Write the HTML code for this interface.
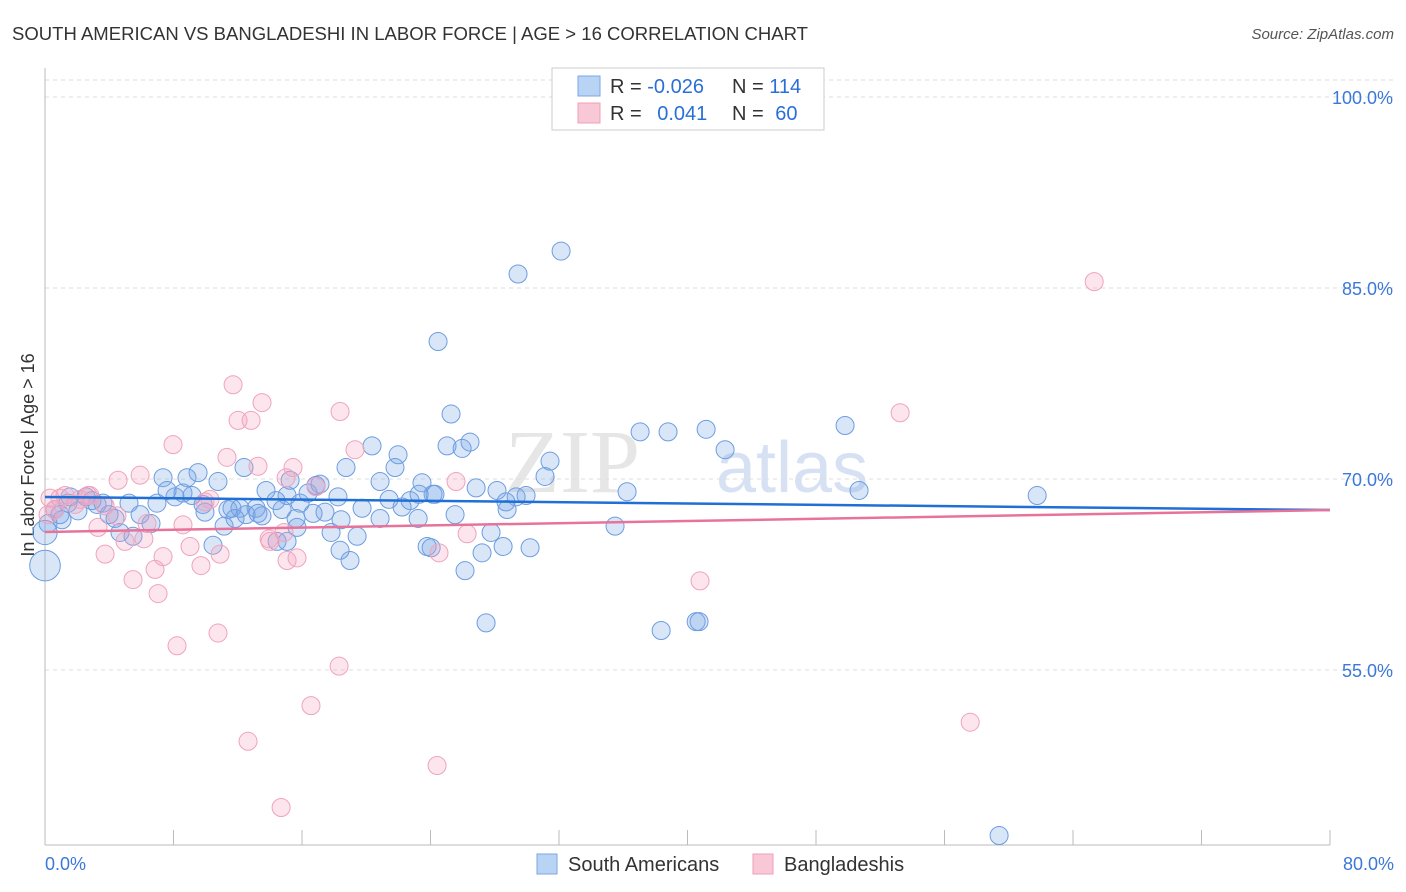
<!DOCTYPE html>
<html><head><meta charset="utf-8"><style>
body{margin:0;background:#fff;font-family:"Liberation Sans",sans-serif;}
svg{display:block}
</style></head><body>
<svg id="chart" width="1406" height="892">
<text x="12" y="40" font-size="18" fill="#333" textLength="796" lengthAdjust="spacingAndGlyphs">SOUTH AMERICAN VS BANGLADESHI IN LABOR FORCE | AGE &gt; 16 CORRELATION CHART</text>
<text x="1394" y="39" font-size="15" fill="#555" text-anchor="end" font-style="italic">Source: ZipAtlas.com</text>
<text x="0" y="0" font-size="18" fill="#333" text-anchor="middle" transform="translate(34,455) rotate(-90)">In Labor Force | Age &gt; 16</text>
<text x="640" y="492" font-size="90" fill="#e6e6e6" font-family="Liberation Serif" text-anchor="end">ZIP</text>
<text x="716" y="492" font-size="72" fill="#d6e2f3">atlas</text>
<g id="grid"></g><g id="pts"></g><g id="trend"></g>
<rect x="552" y="68" width="272" height="62" fill="#fff" stroke="#ccc"/>
<rect x="578" y="76" width="22" height="20" fill="#b9d3f5" stroke="#7aa7e6"/>
<rect x="578" y="103" width="22" height="20" fill="#f9c8d7" stroke="#f0a0b8"/>
<text x="610" y="93" font-size="20" fill="#333">R = <tspan fill="#2a6fd6">-0.026</tspan></text>
<text x="732" y="93" font-size="20" fill="#333">N = <tspan fill="#2a6fd6">114</tspan></text>
<text x="610" y="120" font-size="20" fill="#333">R = <tspan fill="#2a6fd6" dx="10">0.041</tspan></text>
<text x="732" y="120" font-size="20" fill="#333">N = <tspan fill="#2a6fd6" dx="6">60</tspan></text>
<rect x="537" y="854" width="20" height="20" fill="#b9d3f5" stroke="#7aa7e6"/>
<text x="568" y="871" font-size="20" fill="#333">South Americans</text>
<rect x="753" y="854" width="20" height="20" fill="#f9c8d7" stroke="#f0a0b8"/>
<text x="784" y="871" font-size="20" fill="#333">Bangladeshis</text>
<text x="45" y="870" font-size="18" fill="#3b78d8">0.0%</text>
<text x="1394" y="870" font-size="18" fill="#3b78d8" text-anchor="end">80.0%</text>
</svg>
<script>
const yTicks=[100,85,70,55];
const yTickLabels=["100.0%","85.0%","70.0%","55.0%"];
const blueX=[29.45,32.13,24.47,25.28,25.03,25.97,26.46,21.98,20.36,12.39,18.74,21.79,20.86,23.47,24.28,26.84,28.14,29.33,29.95,31.13,31.44,37.05,38.79,41.16,42.34,49.81,50.68,61.77,36.24,35.49,30.2,28.52,27.21,26.15,27.77,27.46,38.36,40.54,40.72,59.4,18.99,15.69,14.45,15.07,17.81,19.43,20.86,23.23,25.53,28.77,21.42,22.73,24.16,19.74,18.43,16.69,17.43,15.88,15.07,13.76,14.38,16.38,16.87,17.12,18.24,13.14,12.52,12.14,11.64,11.15,10.46,9.53,8.84,8.59,8.09,7.35,6.97,5.92,5.23,4.67,3.99,3.61,3.24,2.55,2.05,1.43,0.93,0.62,0.19,0,0,9.84,10.77,9.96,9.15,7.6,6.6,5.48,4.36,2.93,1.56,1.06,13.51,14.76,15.63,15.26,13.26,11.39,11.83,18.37,23.79,24.04,22.23,23.29,28.7];
const blueY=[86.1,87.9,80.8,75.1,72.6,72.4,72.9,71.9,72.6,70.9,70.9,70.9,69.8,69.7,68.8,69.3,69.1,68.6,68.7,70.2,71.4,73.7,73.7,73.9,72.3,74.2,69.1,68.7,69.0,66.3,64.6,64.7,64.2,62.8,65.8,58.7,58.1,58.8,58.8,42.0,63.6,66.2,65.1,65.1,65.8,65.5,66.9,66.9,67.2,67.6,68.4,68.3,68.8,67.7,66.8,67.3,67.4,68.1,68.7,69.1,68.3,68.9,69.5,69.6,68.6,67.7,67.2,67.7,67.7,66.3,64.8,70.5,70.1,68.9,68.6,70.1,68.1,67.2,68.1,65.8,67.2,68.1,68.0,68.6,67.5,68.1,67.2,67.6,66.5,65.8,63.2,68.0,69.8,67.4,68.7,69.1,66.5,65.5,66.9,68.3,68.6,66.8,67.1,67.6,66.9,69.9,67.3,67.6,66.9,64.4,64.7,64.6,67.8,68.8,68.2];
const blueSize=blueX.map((v,i)=>i===89?1.35:(i===90?1.7:1));
const pinkX=[65.32,53.24,57.6,40.78,11.71,13.51,12.83,12.02,18.37,19.3,7.97,11.33,13.26,15.44,16.87,15.01,25.59,26.28,24.53,24.41,16.56,18.31,14.7,12.64,10.77,8.22,7.04,5.48,6.85,3.74,4.98,7.35,9.03,9.71,10.9,14.01,15.07,15.69,6.35,6.16,8.59,4.48,3.74,2.68,2.18,1.25,0.62,0.19,0.93,3.3,5.92,4.55,10.27,9.96,1.87,13.95,14.88,2.8,0.31];
const pinkY=[85.5,75.2,50.9,62.0,77.4,76.0,74.6,74.6,75.3,72.3,72.7,71.7,71.0,70.9,69.4,70.1,69.8,65.7,64.2,47.5,52.2,55.3,44.2,49.4,57.9,56.9,61.0,62.1,62.9,64.1,65.1,63.9,64.7,63.2,64.1,65.1,63.6,63.8,66.5,65.3,66.4,67.1,67.9,68.7,68.4,68.7,67.6,67.2,68.5,66.2,70.3,69.9,68.4,68.2,68.0,65.3,65.8,68.7,68.5];
const blueTrend=[68.59,67.56];
const pinkTrend=[65.84,67.56];
const NS="http://www.w3.org/2000/svg";
const X0=45,X1=1330,Y100=97,PXY=12.733;
function sx(v){return X0+(v/80)*(X1-X0);}
function sy(v){return Y100+(100-v)*PXY;}
function mk(tag,attrs,parent){const e=document.createElementNS(NS,tag);for(const k in attrs)e.setAttribute(k,attrs[k]);parent.appendChild(e);return e;}
const grid=document.getElementById('grid');
mk('line',{x1:X0,y1:80,x2:1394,y2:80,stroke:'#ddd','stroke-dasharray':'4,4'},grid);
yTicks.forEach((t,i)=>{
  const l=mk('line',{x1:X0,y1:sy(t),x2:1394,y2:sy(t),stroke:'#ddd','stroke-dasharray':'4,4'},grid);
  
  
  const tx=mk('text',{x:1393,y:sy(t)+7,'font-size':18,fill:'#3b78d8','text-anchor':'end'},grid);
  tx.textContent=yTickLabels[i];
  
  
});
const ax=mk('line',{x1:X0,y1:68,x2:X0,y2:845,stroke:'#bbb'},grid);


const bx=mk('line',{x1:X0,y1:845,x2:X1,y2:845,stroke:'#bbb'},grid);


for(let k=0;k<=10;k++){
  const t=mk('line',{x1:sx(k*8),y1:830,x2:sx(k*8),y2:845,stroke:'#bbb'},grid);
  
  
}
const pts=document.getElementById('pts');
blueX.forEach((v,i)=>{
  const c=mk('circle',{cx:sx(v),cy:sy(blueY[i]),r:9*blueSize[i],fill:'rgba(120,165,230,0.28)',stroke:'#6d9de0','stroke-width':1},pts);
  
  
});
pinkX.forEach((v,i)=>{
  const c=mk('circle',{cx:sx(v),cy:sy(pinkY[i]),r:9,fill:'rgba(245,160,190,0.28)',stroke:'#f0a3bc','stroke-width':1},pts);
  
  
});
const tr=document.getElementById('trend');
const bl=mk('line',{x1:sx(0),y1:sy(blueTrend[0]),x2:sx(80),y2:sy(blueTrend[1]),stroke:'#1f6fd6','stroke-width':2.5},tr);


const pl=mk('line',{x1:sx(0),y1:sy(pinkTrend[0]),x2:sx(80),y2:sy(pinkTrend[1]),stroke:'#e8739a','stroke-width':2.5},tr);


</script>
</body></html>
